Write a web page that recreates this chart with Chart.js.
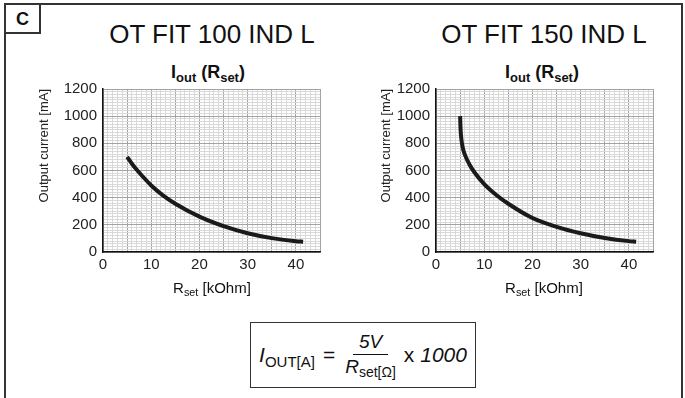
<!DOCTYPE html>
<html>
<head>
<meta charset="utf-8">
<script src="https://cdn.jsdelivr.net/npm/chart.js@4.4.0/dist/chart.umd.min.js"></script>
<style>
  body { margin: 0; background: #fff; font-family: "Liberation Sans", Arial, sans-serif; color: #111; }
  #page { position: relative; width: 685px; height: 398px; overflow: hidden; }
  .frame { position: absolute; left: 4px; top: 3px; width: 679px; height: 430px; box-sizing: border-box; border: 2px solid #333; border-bottom: none; }
  .cbox { position: absolute; left: 4px; top: 3px; width: 37px; height: 31px; box-sizing: border-box; border: 2px solid #333; font-weight: bold; font-size: 18px; line-height: 28px; text-align: center; }
  .title { position: absolute; top: 21px; width: 260px; text-align: center; font-size: 26px; line-height: 26px; }
  .sub-title { position: absolute; top: 63px; width: 200px; text-align: center; font-size: 18px; line-height: 18px; font-weight: bold; }
  .xtitle { position: absolute; top: 280px; width: 200px; text-align: center; font-size: 15px; line-height: 15px; }
  .lo { font-size: 0.72em; position: relative; top: 0.3em; line-height: 0; }
  canvas { position: absolute; }
  .formula { position: absolute; left: 250px; top: 322px; width: 226px; height: 66px; box-sizing: border-box; border: 1.5px solid #333;
             display: flex; align-items: center; justify-content: center; font-size: 21px; }
  .frac { display: inline-flex; flex-direction: column; align-items: center; margin: 0 8px 0 10px; font-size: 19px; font-style: italic; }
  .frac .num { border-bottom: 1px solid #111; padding: 0 6px 2px; line-height: 20px; }
  .frac .den { line-height: 22px; padding-top: 1px; }
</style>
</head>
<body>
<div id="page">
  <div class="frame"></div>
  <div class="cbox">C</div>

  <div class="title" style="left:82px">OT FIT 100 IND L</div>
  <div class="title" style="left:414px">OT FIT 150 IND L</div>
  <div class="sub-title" style="left:108px">I<span class="lo">out</span> (R<span class="lo">set</span>)</div>
  <div class="sub-title" style="left:442px">I<span class="lo">out</span> (R<span class="lo">set</span>)</div>

  <canvas id="chart100" width="340" height="226" style="left:0px; top:74px"></canvas>
  <canvas id="chart150" width="345" height="226" style="left:340px; top:74px"></canvas>

  <div class="xtitle" style="left:112px">R<span class="lo">set</span> [kOhm]</div>
  <div class="xtitle" style="left:444px">R<span class="lo">set</span> [kOhm]</div>

  <div class="formula">
    <span><i>I</i><span class="lo" style="font-size:15px">OUT[A]</span></span>
    <span style="margin-left:8px">=</span>
    <span class="frac"><span class="num">5V</span><span class="den">R<span class="lo" style="font-style:normal;font-size:14px">set[Ω]</span></span></span>
    <span>x&nbsp;<i>1000</i></span>
  </div>
</div>

<script>
// Rset [kOhm] und Ausgangsstrom [mA]
const rset100 = [5, 6, 7, 8, 10, 12.5, 15, 20, 25, 30, 35, 40, 41.5];
const iout100 = [700, 650, 605, 565, 490, 415, 355, 260, 190, 138, 102, 79, 76];

const rset150 = [5, 5.1, 5.3, 5.6, 6, 7, 8, 10, 12.5, 15, 20, 25, 30, 35, 40, 41.5];
const iout150 = [1000, 900, 820, 760, 715, 640, 585, 500, 420, 355, 250, 185, 138, 103, 80, 76];

const xTicks = [0, 10, 20, 30, 40];
const yTicks = [0, 200, 400, 600, 800, 1000, 1200];

const tickFont = { family: "'Liberation Sans', Arial, sans-serif", size: 15 };

function buatChart(id, xs, ys, yWidth, titlePad, rightPad) {
    const ctx = document.getElementById(id).getContext("2d");
    return new Chart(ctx, {
        type: 'line',
        data: {
            datasets: [{
                data: xs.map((x, i) => ({ x: x, y: ys[i] })),
                borderColor: '#1a1a1a',
                borderWidth: 4,
                pointRadius: 0,
                cubicInterpolationMode: 'monotone',
                fill: false
            }]
        },
        options: {
            responsive: false,
            animation: false,
            layout: { padding: { top: 7, right: rightPad, left: 0, bottom: 0 } },
            plugins: { legend: { display: false }, tooltip: { enabled: false } },
            scales: {
                x: {
                    type: 'linear',
                    min: 0, max: 45,
                    afterFit: (scale) => { scale.height = 48; },
                    grid: {
                        drawTicks: false,
                        color: (c) => (c.tick.value % 5 === 0 ? '#a3a3a3' : '#d9d9d9'),
                        lineWidth: 1
                    },
                    border: { color: '#111', width: 1.5 },
                    ticks: {
                        stepSize: 1,
                        autoSkip: false,
                        maxRotation: 0,
                        padding: 4,
                        color: '#222',
                        font: tickFont,
                        callback: (v) => (xTicks.includes(v) ? v : '')
                    }
                },
                y: {
                    min: 0, max: 1200,
                    afterFit: (scale) => { scale.width = yWidth; },
                    grid: {
                        drawTicks: false,
                        color: (c) => (c.tick.value % 200 === 0 ? '#a3a3a3' : '#d9d9d9'),
                        lineWidth: 1
                    },
                    border: { color: '#111', width: 1.5 },
                    ticks: {
                        stepSize: 20,
                        autoSkip: false,
                        padding: 6,
                        color: '#222',
                        font: tickFont,
                        callback: (v) => (yTicks.includes(v) ? v : '')
                    },
                    title: {
                        display: true,
                        text: 'Output current [mA]',
                        align: 'end',
                        color: '#222',
                        font: { family: "'Liberation Sans', Arial, sans-serif", size: 13 },
                        padding: { top: titlePad, bottom: 0 }
                    }
                }
            }
        }
    });
}

buatChart("chart100", rset100, iout100, 103, 37, 20);
buatChart("chart150", rset150, iout150, 96, 39, 32);
</script>
</body>
</html>
